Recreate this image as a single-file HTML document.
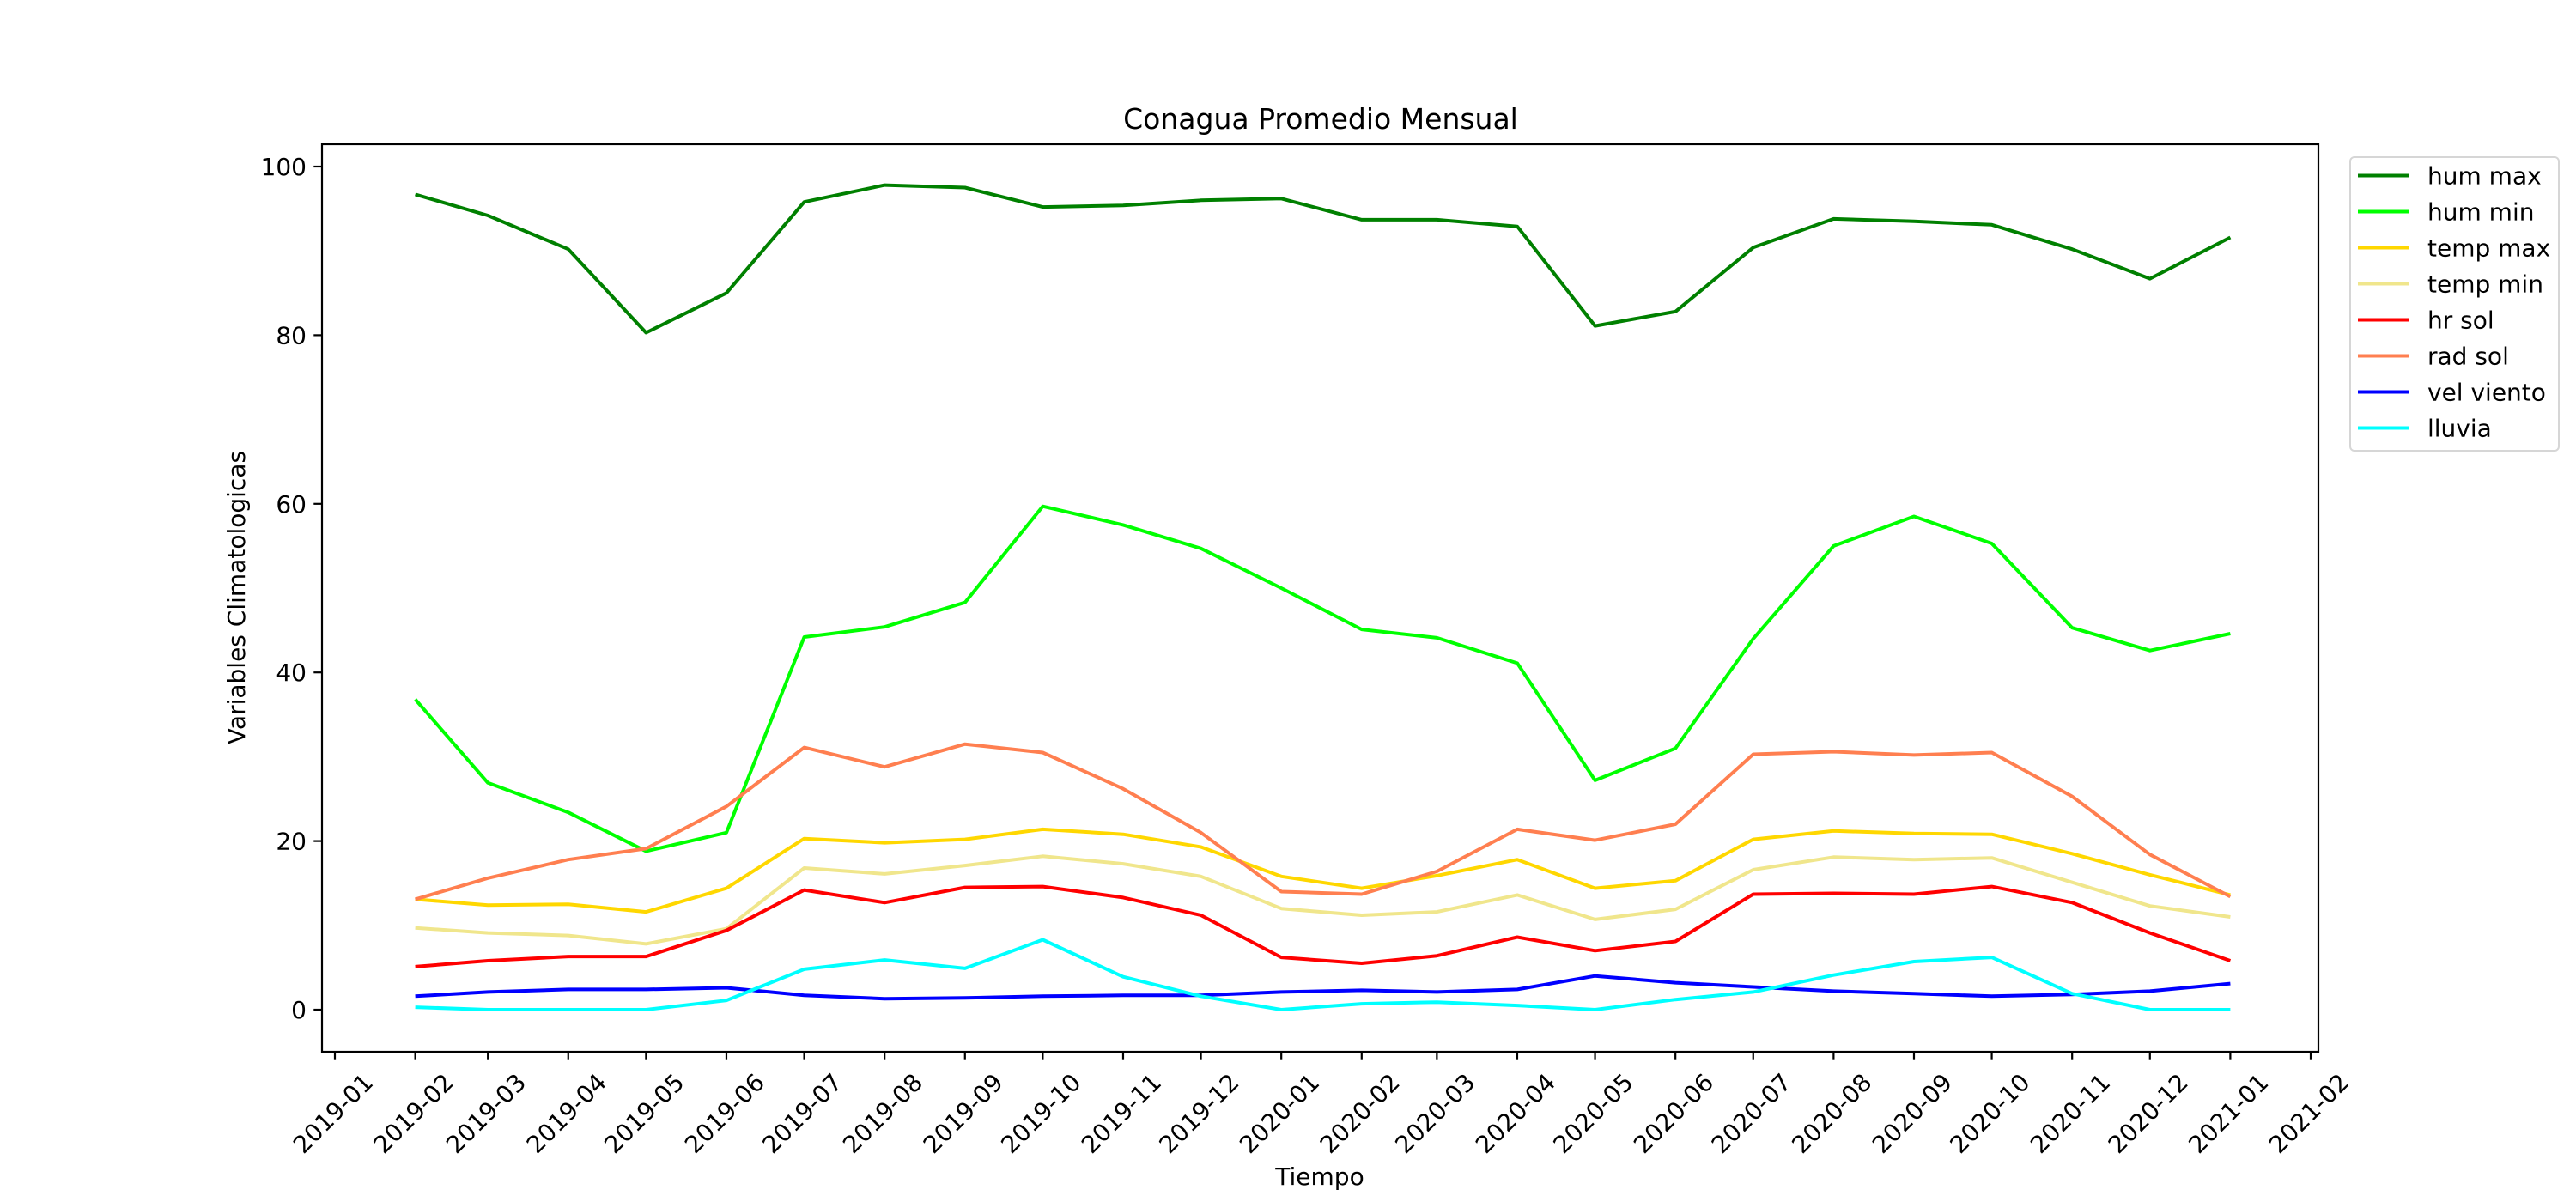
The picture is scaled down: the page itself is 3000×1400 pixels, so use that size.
<!DOCTYPE html>
<html><head><meta charset="utf-8">
<style>
html,body{margin:0;padding:0;background:#fff;}
svg{display:block;font-family:"DejaVu Sans","Liberation Sans",sans-serif;}
</style></head>
<body>
<svg id="chart" width="3000" height="1400" viewBox="0 0 3000 1400">
<rect width="3000" height="1400" fill="#fff"/>
<text x="1538" y="150" font-size="33" text-anchor="middle">Conagua Promedio Mensual</text>
<g id="plot"></g>
<rect x="375" y="168" width="2325" height="1057" fill="none" stroke="#000" stroke-width="2.2"/>
<text x="1537" y="1380" font-size="28" text-anchor="middle">Tiempo</text>
<text transform="translate(285,696) rotate(-90)" font-size="28" text-anchor="middle">Variables Climatologicas</text>
<g id="legend"></g>
</svg>
<script>
const months = ["2019-02","2019-03","2019-04","2019-05","2019-06","2019-07","2019-08","2019-09","2019-10","2019-11","2019-12","2020-01","2020-02","2020-03","2020-04","2020-05","2020-06","2020-07","2020-08","2020-09","2020-10","2020-11","2020-12","2021-01"];
const humMax = [96.7,94.2,90.2,80.3,85,95.8,97.8,97.5,95.2,95.4,96,96.2,93.7,93.7,92.9,81.1,82.8,90.4,93.8,93.5,93.1,90.2,86.7,91.6];
const humMin = [36.8,26.9,23.4,18.8,21,44.2,45.4,48.3,59.7,57.5,54.7,50,45.1,44.1,41.1,27.2,31,44,55,58.5,55.3,45.3,42.6,44.6];
const tempMax = [13.1,12.4,12.5,11.6,14.4,20.3,19.8,20.2,21.4,20.8,19.3,15.8,14.4,15.9,17.8,14.4,15.3,20.2,21.2,20.9,20.8,18.5,16,13.6];
const tempMin = [9.7,9.1,8.8,7.8,9.6,16.8,16.1,17.1,18.2,17.3,15.8,12,11.2,11.6,13.6,10.7,11.9,16.6,18.1,17.8,18,15.1,12.3,11];
const hrSol = [5.1,5.8,6.3,6.3,9.4,14.2,12.7,14.5,14.6,13.3,11.2,6.2,5.5,6.4,8.6,7,8.1,13.7,13.8,13.7,14.6,12.7,9.1,5.8];
const radSol = [13.1,15.6,17.8,19.1,24.1,31.1,28.8,31.5,30.5,26.2,21,14,13.7,16.4,21.4,20.1,22,30.3,30.6,30.2,30.5,25.3,18.4,13.4];
const velViento = [1.6,2.1,2.4,2.4,2.6,1.7,1.3,1.4,1.6,1.7,1.7,2.1,2.3,2.1,2.4,4,3.2,2.7,2.2,1.9,1.6,1.8,2.2,3.1];
const lluvia = [0.3,0,0,0,1.1,4.8,5.9,4.9,8.3,3.9,1.6,0,0.7,0.9,0.5,0,1.2,2.1,4.1,5.7,6.2,1.9,0,0];
const seriesNames = ["hum max","hum min","temp max","temp min","hr sol","rad sol","vel viento","lluvia"];
const seriesColors = ["#008000","#00ff00","#ffd700","#f0e68c","#ff0000","#ff7f50","#0000ff","#00ffff"];
const xTickLabels = ["2019-01","2019-02","2019-03","2019-04","2019-05","2019-06","2019-07","2019-08","2019-09","2019-10","2019-11","2019-12","2020-01","2020-02","2020-03","2020-04","2020-05","2020-06","2020-07","2020-08","2020-09","2020-10","2020-11","2020-12","2021-01","2021-02"];
const yTicks = [0,20,40,60,80,100];

const NS = "http://www.w3.org/2000/svg";
const t0 = Date.UTC(2019,0,1), t1 = Date.UTC(2021,1,1);
function xScale(label){ const [y,m]=label.split("-").map(Number); const t=Date.UTC(y,m-1,1); return 390 + (t-t0)/(t1-t0)*(2691-390); }
function yScale(v){ return 1176 - v*(1176-194)/100; }

const plot = document.getElementById("plot");
yTicks.forEach(v=>{
  const y=yScale(v);
  const tk=document.createElementNS(NS,"line");
  tk.setAttribute("x1",365.3);tk.setAttribute("x2",375);tk.setAttribute("y1",y);tk.setAttribute("y2",y);
  tk.setAttribute("stroke","#000");tk.setAttribute("stroke-width","2.2");
  
  
  plot.appendChild(tk);
  const tx=document.createElementNS(NS,"text");
  tx.setAttribute("x",357);tx.setAttribute("y",y+10);tx.setAttribute("font-size","28");tx.setAttribute("text-anchor","end");
  tx.textContent=v;
  
  
  plot.appendChild(tx);
});
xTickLabels.forEach(l=>{
  const x=xScale(l);
  const tk=document.createElementNS(NS,"line");
  tk.setAttribute("x1",x);tk.setAttribute("x2",x);tk.setAttribute("y1",1225);tk.setAttribute("y2",1234.7);
  tk.setAttribute("stroke","#000");tk.setAttribute("stroke-width","2.2");
  
  
  plot.appendChild(tk);
  const tx=document.createElementNS(NS,"text");
  tx.setAttribute("transform",`translate(${x-2},1297) rotate(-45)`);
  tx.setAttribute("font-size","28");tx.setAttribute("text-anchor","middle");tx.setAttribute("dominant-baseline","central");
  tx.textContent=l;
  
  
  plot.appendChild(tx);
});
const allSeries=[humMax,humMin,tempMax,tempMin,hrSol,radSol,velViento,lluvia];
allSeries.forEach((s,i)=>{
  const p=document.createElementNS(NS,"polyline");
  p.setAttribute("points",s.map((v,j)=>xScale(months[j]).toFixed(1)+","+yScale(v).toFixed(1)).join(" "));
  p.setAttribute("fill","none");p.setAttribute("stroke",seriesColors[i]);p.setAttribute("stroke-width","4");
  p.setAttribute("stroke-linejoin","round");
  
  
  plot.appendChild(p);
});
const lg=document.getElementById("legend");
const fr=document.createElementNS(NS,"rect");
fr.setAttribute("x",2737);fr.setAttribute("y",183);fr.setAttribute("width",243);fr.setAttribute("height",342);fr.setAttribute("rx",5);
fr.setAttribute("fill","#fff");fr.setAttribute("stroke","#d6d6d6");fr.setAttribute("stroke-width","2");


lg.appendChild(fr);
seriesNames.forEach((n,i)=>{
  const y=204.5+i*42;
  const ln=document.createElementNS(NS,"line");
  ln.setAttribute("x1",2746);ln.setAttribute("x2",2806);ln.setAttribute("y1",y);ln.setAttribute("y2",y);
  ln.setAttribute("stroke",seriesColors[i]);ln.setAttribute("stroke-width","4");
  
  
  lg.appendChild(ln);
  const tx=document.createElementNS(NS,"text");
  tx.setAttribute("x",2827);tx.setAttribute("y",y+10);tx.setAttribute("font-size","28");
  tx.textContent=n;
  
  
  lg.appendChild(tx);
});
</script>
</body></html>
